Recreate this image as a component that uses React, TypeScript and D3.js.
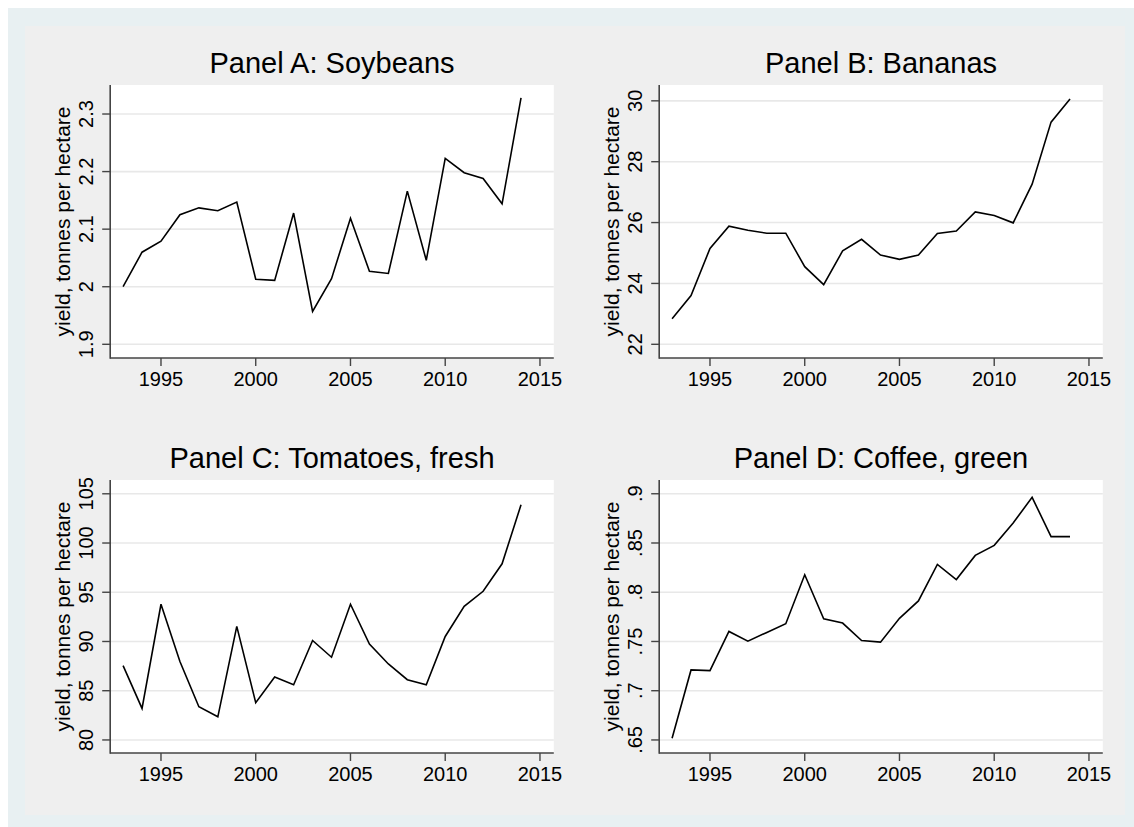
import React from "react";
import * as d3 from "d3";

// ---------- data ----------
const years = [1993, 1994, 1995, 1996, 1997, 1998, 1999, 2000, 2001, 2002, 2003, 2004, 2005, 2006, 2007, 2008, 2009, 2010, 2011, 2012, 2013, 2014];

const soybeans = [2.000, 2.060, 2.079, 2.125, 2.137, 2.132, 2.147, 2.013, 2.011, 2.128, 1.957, 2.014, 2.119, 2.027, 2.023, 2.166, 2.046, 2.223, 2.198, 2.188, 2.144, 2.328];
const bananas = [22.84, 23.60, 25.15, 25.88, 25.75, 25.65, 25.65, 24.55, 23.96, 25.07, 25.45, 24.93, 24.79, 24.93, 25.64, 25.72, 26.35, 26.23, 25.99, 27.26, 29.30, 30.06];
const tomatoes = [87.55, 83.2, 93.78, 87.96, 83.37, 82.35, 91.53, 83.78, 86.39, 85.61, 90.1, 88.4, 93.78, 89.73, 87.72, 86.12, 85.61, 90.51, 93.57, 95.1, 97.89, 103.88];
const coffee = [0.6517, 0.7211, 0.7204, 0.7602, 0.7503, 0.7592, 0.768, 0.8177, 0.7731, 0.7687, 0.751, 0.7493, 0.7735, 0.7912, 0.8282, 0.8129, 0.8374, 0.8476, 0.8704, 0.8963, 0.8565, 0.8565];

const titles = ["Panel A: Soybeans", "Panel B: Bananas", "Panel C: Tomatoes, fresh", "Panel D: Coffee, green"];
const series = [soybeans, bananas, tomatoes, coffee];

const xTicks = [1995, 2000, 2005, 2010, 2015];
const yTicksA = [1.9, 2.0, 2.1, 2.2, 2.3];
const yTickLabelsA = ["1.9", "2", "2.1", "2.2", "2.3"];
const yTicksB = [22, 24, 26, 28, 30];
const yTickLabelsB = ["22", "24", "26", "28", "30"];
const yTicksC = [80, 85, 90, 95, 100, 105];
const yTickLabelsC = ["80", "85", "90", "95", "100", "105"];
const yTicksD = [0.65, 0.7, 0.75, 0.8, 0.85, 0.9];
const yTickLabelsD = [".65", ".7", ".75", ".8", ".85", ".9"];

const yTicks = [yTicksA, yTicksB, yTicksC, yTicksD];
const yTickLabels = [yTickLabelsA, yTickLabelsB, yTickLabelsC, yTickLabelsD];
// visible y range of each plot region
const yDomains: [number, number][] = [
  [1.8762, 2.3504],
  [21.55, 30.52],
  [78.675, 106.4],
  [0.63675, 0.91396],
];
const xDomain: [number, number] = [1992.32, 2015.73];
const yLabel = "yield, tonnes per hectare";

// ---------- layout ----------
const W = 1126;
const H = 819;
const FONT = "'Liberation Sans', Arial, Helvetica, sans-serif";
const colLeft = [110.2, 659.2];
const plotW = 443.6;
const rowTop = [85, 480];
const plotH = 273;

function Panel({ i }: { i: number }) {
  const col = i % 2;
  const row = Math.floor(i / 2);
  const left = colLeft[col];
  const right = left + plotW;
  const top = rowTop[row];
  const bottom = top + plotH;
  const x = d3.scaleLinear().domain(xDomain).range([left, right]);
  const y = d3.scaleLinear().domain(yDomains[i]).range([bottom, top]);
  const vals = series[i];
  const line = d3
    .line<number>()
    .x((_, k) => x(years[k]))
    .y((v) => y(v));
  const cx = (left + right) / 2;
  return (
    <g>
      <rect x={left} y={top} width={plotW} height={plotH} fill="#ffffff" />
      {yTicks[i].map((t) => (
        <line key={"g" + t} x1={left} x2={right} y1={y(t)} y2={y(t)} stroke="#e8e8e8" strokeWidth={1.6} />
      ))}
      <path d={line(vals) || ""} fill="none" stroke="#000000" strokeWidth={1.6} strokeLinejoin="miter" />
      <line x1={left} x2={left} y1={top} y2={bottom + 0.8} stroke="#444" strokeWidth={1.6} />
      <line x1={left} x2={right} y1={bottom} y2={bottom} stroke="#444" strokeWidth={1.6} />
      {yTicks[i].map((t, k) => (
        <g key={"yt" + t}>
          <line x1={left - 8} x2={left} y1={y(t)} y2={y(t)} stroke="#444" strokeWidth={1.4} />
          <text
            transform={`translate(${left - 17.5},${y(t)}) rotate(-90)`}
            textAnchor="middle"
            fontSize={20}
            fontFamily={FONT}
            fill="#000"
          >
            {yTickLabels[i][k]}
          </text>
        </g>
      ))}
      {xTicks.map((t) => (
        <g key={"xt" + t}>
          <line x1={x(t)} x2={x(t)} y1={bottom} y2={bottom + 8} stroke="#444" strokeWidth={1.4} />
          <text x={x(t)} y={bottom + 28} textAnchor="middle" fontSize={20} fontFamily={FONT} fill="#000">
            {t}
          </text>
        </g>
      ))}
      <text
        transform={`translate(${left - 40},${(top + bottom) / 2}) rotate(-90)`}
        textAnchor="middle"
        fontSize={21}
        fontFamily={FONT}
        fill="#000"
      >
        {yLabel}
      </text>
      <text x={cx} y={top - 12.5} textAnchor="middle" fontSize={29} fontFamily={FONT} fill="#000">
        {titles[i]}
      </text>
    </g>
  );
}

export default function App() {
  return (
    <svg
      width={W}
      height={H}
      style={{ position: "absolute", left: 8, top: 8, display: "block" }}
      xmlns="http://www.w3.org/2000/svg"
    >
      <rect x={0} y={0} width={W} height={H} fill="#e8f0f2" />
      <g transform="translate(-8,-8)">
        <rect x={25} y={26} width={1100} height={789} fill="#efefef" />
        {[0, 1, 2, 3].map((i) => (
          <Panel key={i} i={i} />
        ))}
      </g>
    </svg>
  );
}
